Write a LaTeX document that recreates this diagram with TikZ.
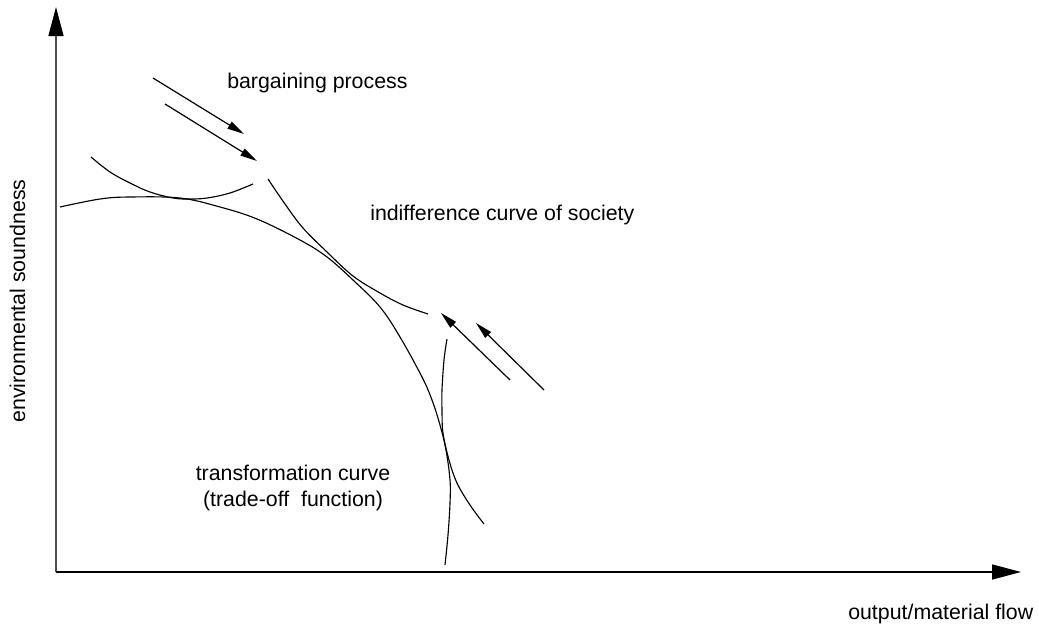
\documentclass[tikz,border=0pt]{standalone}
\usepackage{fontspec}
\setmainfont{Liberation Sans}
\usetikzlibrary{arrows.meta}
\begin{document}
\begin{tikzpicture}[x=0.75pt,y=-0.75pt,
  curve/.style={line width=0.85pt, black, line join=round},
  barrow/.style={line width=0.9pt, black, -{Triangle[length=12.75pt,width=6pt]}},
  axisline/.style={line width=1.1pt, -{Triangle[length=21.75pt,width=11.25pt,color=black]}},
  lbl/.style={font=\fontsize{16}{19}\selectfont, inner sep=0pt, text=black}]
\useasboundingbox (0,0) rectangle (1039,629);
\fill[white] (0,0) rectangle (1039,629);
% axes
\coordinate (O) at (56,572);
\coordinate (ytip) at (56,7);
\coordinate (xtip) at (1021,572);
\draw[axisline, draw=black!70] (O) -- (ytip);
\draw[axisline, draw=black] (O) -- (xtip);
% transformation curve
\draw[curve] plot[smooth, tension=0.6] coordinates {(60,207) (100,199) (130,197) (180,198) (220,207) (257,219) (300,240) (327,257) (353,280) (380,307) (400,337) (422,377) (432,400) (440,425) (446,450) (450,480) (450,503) (448,535) (445,565)};
% upper indifference curve
\draw[curve] plot[smooth, tension=0.6] coordinates {(268,179) (285,204) (303,228) (327,252) (353,276) (380,293) (403,305) (428,314)};
% lower indifference curve, left part
\draw[curve] plot[smooth, tension=0.6] coordinates {(91,157) (110,172) (130,183) (150,192) (173,198) (190,199) (207,198) (230,193) (253,184)};
% lower indifference curve, right part
\draw[curve] plot[smooth, tension=0.6] coordinates {(447,339) (444,360) (442,390) (442,410) (443,433) (449,460) (457,483) (470,505) (484,524)};
% bargaining arrows
\coordinate (a1s) at (153,78);  \coordinate (a1e) at (244,134);
\coordinate (a2s) at (165,104); \coordinate (a2e) at (257,161);
\coordinate (a3s) at (510,380); \coordinate (a3e) at (441,313);
\coordinate (a4s) at (544,390); \coordinate (a4e) at (476,323);
\draw[barrow] (a1s) -- (a1e);
\draw[barrow] (a2s) -- (a2e);
\draw[barrow] (a3s) -- (a3e);
\draw[barrow] (a4s) -- (a4e);
% labels
\node[lbl, anchor=base west] (bp) at (227,88) {bargaining process};
\node[lbl, anchor=base west] (ic) at (370,220) {indifference curve of society};
\node[lbl, anchor=base, align=center] (tc) at (293,480) {transformation curve};
\node[lbl, anchor=base] (tf) at (293,506) {(trade-off\ \ function)};
\node[lbl, anchor=base, rotate=90] (ys) at (25,301) {environmental soundness};
\node[lbl, anchor=base west] (xl) at (848,619) {output/material flow};
\end{tikzpicture}
\end{document}
